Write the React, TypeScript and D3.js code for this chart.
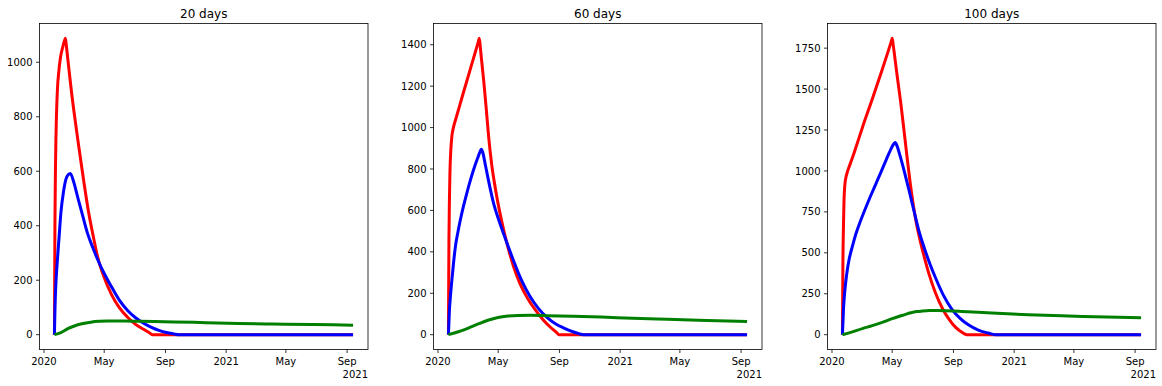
import React from 'react';
import * as d3 from 'd3';

// day offsets counted from the first date of the series
const START = new Date(2020, 0, 22);
const LAST_DAY = 600;

const titles = ['20 days', '60 days', '100 days'];

const red20: [number, number][] = [
  [0, 0], [1, 400], [2, 600], [3, 720], [4, 800], [6, 900], [9, 970], [12, 1016], [17, 1058],
  [20, 1078], [22, 1088], [24, 1060], [27, 1010], [30, 960], [35, 880], [40, 809], [47, 715],
  [54, 626], [60, 550], [67, 467], [77, 370], [87, 284], [100, 210], [114, 150], [130, 100],
  [147, 64], [163, 38], [180, 19], [190, 8], [197, 0], [600, 0],
];
const blue20: [number, number][] = [
  [0, 0], [1, 90], [3, 190], [5, 250], [7, 300], [10, 375], [13, 448], [18, 522], [23, 570],
  [28, 588], [32, 592], [38, 565], [47, 503], [57, 435], [67, 369], [77, 320], [87, 275],
  [100, 225], [114, 178], [130, 128], [147, 89], [163, 62], [180, 41], [195, 27], [210, 16],
  [225, 8], [240, 3], [250, 0], [600, 0],
];
const green20: [number, number][] = [
  [0, 0], [13, 8], [27, 22], [40, 32], [55, 40], [73, 46], [90, 49], [107, 50], [140, 50],
  [173, 49], [240, 47], [305, 44], [370, 41], [437, 39], [520, 37], [600, 35],
];

const red60: [number, number][] = [
  [0, 0], [1, 450], [2, 650], [3, 780], [5, 900], [7, 960], [10, 1000], [15, 1043], [21, 1093],
  [30, 1168], [40, 1250], [50, 1332], [60, 1414], [62, 1431], [64, 1390], [66, 1340], [71, 1223],
  [76, 1090], [81, 950], [87, 820], [94, 710], [102, 605], [111, 505], [121, 410], [131, 328],
  [144, 245], [158, 180], [175, 118], [191, 70], [205, 36], [218, 9], [222, 0], [600, 0],
];
const blue60: [number, number][] = [
  [0, 0], [2, 120], [4, 185], [7, 265], [10, 340], [14, 425], [19, 495], [24, 555], [30, 618],
  [37, 684], [44, 745], [51, 800], [58, 848], [63, 880], [66, 895], [69, 880], [74, 822],
  [80, 750], [91, 632], [100, 562], [111, 486], [121, 420], [131, 356], [147, 262], [164, 184],
  [181, 126], [198, 84], [215, 53], [231, 33], [250, 14], [262, 5], [271, 0], [600, 0],
];
const green60: [number, number][] = [
  [0, 0], [20, 14], [40, 32], [60, 52], [75, 66], [90, 77], [105, 85], [120, 90], [140, 93],
  [165, 93.5], [198, 92], [250, 89], [307, 85], [370, 79], [440, 74], [520, 69], [600, 64],
];

const red100: [number, number][] = [
  [0, 0], [1, 450], [2, 650], [3, 800], [5, 920], [7, 960], [10, 995], [13, 1021], [20, 1080],
  [27, 1143], [40, 1264], [60, 1440], [80, 1620], [98, 1790], [100, 1810], [102, 1770],
  [105, 1700], [110, 1580], [117, 1420], [124, 1240], [130, 1080], [136, 930], [142, 800],
  [148, 690], [155, 590], [164, 480], [174, 370], [187, 255], [201, 160], [214, 95], [227, 46],
  [240, 15], [250, 0], [600, 0],
];
const blue100: [number, number][] = [
  [0, 0], [2, 150], [4, 240], [7, 331], [10, 400], [13, 453], [20, 540], [27, 615], [37, 700],
  [47, 777], [57, 850], [67, 920], [77, 990], [87, 1062], [97, 1130], [103, 1165], [106, 1173],
  [110, 1150], [116, 1090], [124, 1000], [134, 880], [145, 740], [155, 620], [164, 534],
  [176, 430], [188, 340], [203, 240], [220, 155], [237, 98], [253, 60], [273, 28], [293, 10],
  [307, 0], [600, 0],
];
const green100: [number, number][] = [
  [0, 0], [20, 17], [40, 37], [60, 55], [80, 75], [100, 98], [113, 111], [127, 124], [135, 132],
  [142, 137], [150, 141], [160, 144], [175, 147], [190, 147.5], [210, 146], [240, 142],
  [300, 132], [373, 122], [440, 115], [507, 110], [600, 103],
];

const yTicks20 = [0, 200, 400, 600, 800, 1000];
const yTicks60 = [0, 200, 400, 600, 800, 1000, 1200, 1400];
const yTicks100 = [0, 250, 500, 750, 1000, 1250, 1500, 1750];

const xTickDates = [
  new Date(2020, 0, 1), new Date(2020, 4, 1), new Date(2020, 8, 1),
  new Date(2021, 0, 1), new Date(2021, 4, 1), new Date(2021, 8, 1),
];
const xTickLabels = ['2020', 'May', 'Sep', '2021', 'May', 'Sep'];
const xOffsetLabel = '2021';

const panels = [
  { title: titles[0], red: red20, blue: blue20, green: green20, yTicks: yTicks20 },
  { title: titles[1], red: red60, blue: blue60, green: green60, yTicks: yTicks60 },
  { title: titles[2], red: red100, blue: blue100, green: green100, yTicks: yTicks100 },
];

const W = 1162;
const H = 386;
const lefts = [39.5, 433.5, 827.5];
const axW = 328.5;
const axTop = 23.5;
const axH = 326;
const font = 'DejaVu Sans, sans-serif';

const dayToDate = (d: number) => d3.timeDay.offset(START, d);

const Panel = ({ p, left }: { p: (typeof panels)[number]; left: number }) => {
  const pad = 0.05 * LAST_DAY;
  const x = d3
    .scaleTime()
    .domain([dayToDate(-pad), dayToDate(LAST_DAY + pad)])
    .range([left, left + axW]);
  const maxV = d3.max([...p.red, ...p.blue, ...p.green], (d) => d[1]) ?? 1;
  const y = d3
    .scaleLinear()
    .domain([-0.05 * maxV, 1.05 * maxV])
    .range([axTop + axH, axTop]);
  const line = d3
    .line<[number, number]>()
    .x((d) => x(dayToDate(d[0])))
    .y((d) => y(d[1]))
    .curve(d3.curveMonotoneX);
  const bottom = axTop + axH;
  return (
    <g>
      <text x={left + axW / 2} y={axTop - 6} textAnchor="middle" fontSize={12} fontFamily={font}>
        {p.title}
      </text>
      {[
        { d: p.red, c: '#ff0000' },
        { d: p.blue, c: '#0000ff' },
        { d: p.green, c: '#008000' },
      ].map((s, i) => (
        <path key={i} d={line(s.d) ?? ''} fill="none" stroke={s.c} strokeWidth={3}
          strokeLinejoin="round" strokeLinecap="butt" />
      ))}
      <rect x={left} y={axTop} width={axW} height={axH} fill="none" stroke="#000" strokeWidth={0.8} />
      {p.yTicks.map((t) => (
        <g key={t}>
          <line x1={left - 3.5} x2={left} y1={y(t)} y2={y(t)} stroke="#000" strokeWidth={0.8} />
          <text x={left - 7} y={y(t) + 3.6} textAnchor="end" fontSize={10} fontFamily={font}>
            {t}
          </text>
        </g>
      ))}
      {xTickDates.map((t, i) => (
        <g key={i}>
          <line x1={x(t)} x2={x(t)} y1={bottom} y2={bottom + 3.5} stroke="#000" strokeWidth={0.8} />
          <text x={x(t)} y={bottom + 15} textAnchor="middle" fontSize={10} fontFamily={font}>
            {xTickLabels[i]}
          </text>
        </g>
      ))}
      <text x={left + axW} y={bottom + 28} textAnchor="end" fontSize={10} fontFamily={font}>
        {xOffsetLabel}
      </text>
    </g>
  );
};

export default function App() {
  return (
    <svg width={W} height={H} style={{ position: 'absolute', left: 0, top: 0, background: '#fff' }}>
      <rect width={W} height={H} fill="#fff" />
      {panels.map((p, i) => (
        <Panel key={i} p={p} left={lefts[i]} />
      ))}
    </svg>
  );
}
